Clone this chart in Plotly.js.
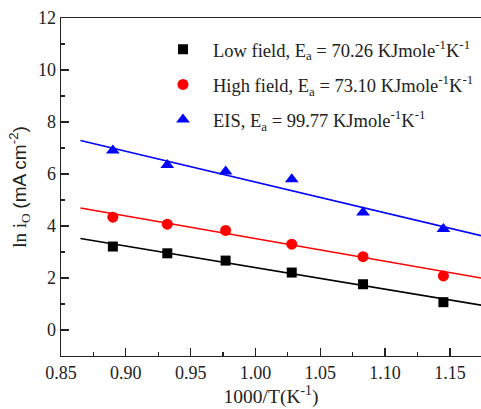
<!DOCTYPE html>
<html>
<head>
<meta charset="utf-8">
<script src="https://cdn.plot.ly/plotly-3.0.1.min.js"></script>
<style>html,body{margin:0;padding:0;background:#fff;}#chart{width:481px;height:409px;}</style>
</head>
<body>
<div id="chart"></div>
<script>
// Data
const invT = [0.890, 0.932, 0.977, 1.028, 1.083, 1.145];
const lowField = [3.21, 2.95, 2.67, 2.21, 1.76, 1.07];
const highField = [4.34, 4.07, 3.83, 3.30, 2.82, 2.08];
const eis = [6.90, 6.35, 6.10, 5.80, 4.52, 3.88];

// Fitted line end points
const fitX = [0.865, 1.175];
const fitLow = [3.52, 0.95];
const fitHigh = [4.69, 1.99];
const fitEis = [7.29, 3.62];

const legendNames = [
  'Low field, E<sub>a</sub> = 70.26 KJmole<sup>-1</sup>K<sup>-1</sup>',
  'High field, E<sub>a</sub> = 73.10 KJmole<sup>-1</sup>K<sup>-1</sup>',
  'EIS, E<sub>a</sub> = 99.77 KJmole<sup>-1</sup>K<sup>-1</sup>'
];

const xTicks = [0.85, 0.90, 0.95, 1.00, 1.05, 1.10, 1.15];
const xTickLabels = ['0.85', '0.90', '0.95', '1.00', '1.05', '1.10', '1.15'];
const yTicks = [0, 2, 4, 6, 8, 10, 12];
const yTickLabels = ['0', '2', '4', '6', '8', '10', '12'];

const colors = ['#000000', '#ff0000', '#0000ff'];
const symbols = ['square', 'circle', 'triangle-up'];
const series = [lowField, highField, eis];
const fits = [fitLow, fitHigh, fitEis];
const sizes = [10, 11, 12];

const traces = [];
for (let i = 0; i < 3; i++) {
  traces.push({
    x: fitX, y: fits[i], mode: 'lines', type: 'scatter',
    line: {color: colors[i], width: 1.6}, showlegend: false, hoverinfo: 'skip'
  });
}
for (let i = 0; i < 3; i++) {
  traces.push({
    x: invT, y: series[i], mode: 'markers', type: 'scatter', name: legendNames[i],
    legendgroup: 'g' + i,
    marker: {symbol: symbols[i], color: colors[i], size: sizes[i]}
  });
}
// invisible helper trace on the minor-tick axes
traces.push({x: [invT[0]], y: [lowField[0]], xaxis: 'x2', yaxis: 'y2', mode: 'markers',
  marker: {opacity: 0}, showlegend: false, hoverinfo: 'skip'});

const serif = 'Liberation Serif';
const ink = '#222';
const xRange = [0.85, 1.174];
const yRange = [-1, 12];
const layout = {
  width: 481, height: 409,
  margin: {l: 61, r: 0, t: 18, b: 53},
  paper_bgcolor: '#fff', plot_bgcolor: '#fff',
  font: {family: serif, size: 18, color: ink},
  showlegend: true,
  legend: {
    x: 0.219, y: 0.962, xanchor: 'left', yanchor: 'top',
    bgcolor: 'rgba(0,0,0,0)', borderwidth: 0,
    font: {family: serif, size: 18.5, color: ink},
    itemwidth: 50, tracegroupgap: 8
  },
  xaxis: {
    range: xRange,
    tickvals: xTicks, ticktext: xTickLabels,
    ticks: 'inside', ticklen: 8, tickwidth: 1.3, tickcolor: ink,
    showline: true, linecolor: ink, linewidth: 1.4, mirror: true,
    showgrid: false, zeroline: false,
    tickfont: {family: serif, size: 18, color: ink},
    title: {text: '1000/T(K<sup>-1</sup>)', font: {family: serif, size: 19.5, color: ink}, standoff: 5}
  },
  yaxis: {
    range: yRange,
    tickvals: yTicks, ticktext: yTickLabels,
    ticks: 'inside', ticklen: 8, tickwidth: 1.3, tickcolor: ink,
    showline: true, linecolor: ink, linewidth: 1.4, mirror: true,
    showgrid: false, zeroline: false,
    tickfont: {family: serif, size: 18, color: ink},
    title: {
      text: 'ln i<sub>O</sub> <span style="font-family:Liberation Sans">(mA cm<sup>-2</sup>)</span>',
      font: {family: serif, size: 19, color: ink}, standoff: 6
    }
  },
  xaxis2: {
    overlaying: 'x', range: xRange, dtick: 0.025, tick0: 0.85,
    ticks: 'inside', ticklen: 4, tickwidth: 1.2, tickcolor: ink,
    showticklabels: false, showgrid: false, zeroline: false, showline: false
  },
  yaxis2: {
    overlaying: 'y', range: yRange, dtick: 1, tick0: 0,
    ticks: 'inside', ticklen: 4, tickwidth: 1.2, tickcolor: ink,
    showticklabels: false, showgrid: false, zeroline: false, showline: false
  }
};

Plotly.newPlot('chart', traces, layout, {displayModeBar: false, staticPlot: true});
</script>
</body>
</html>
